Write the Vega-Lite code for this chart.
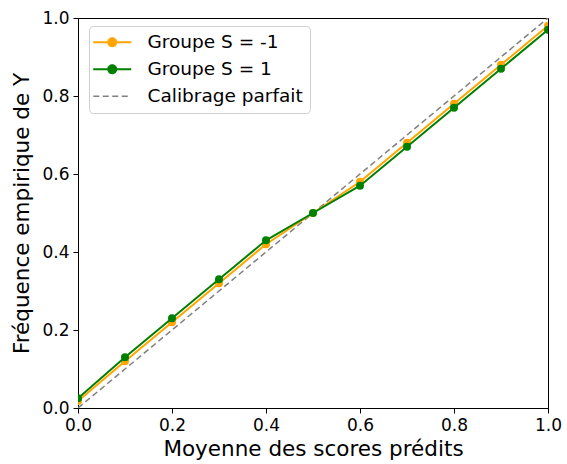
{
  "$schema": "https://vega.github.io/schema/vega-lite/v6.json",
  "width": 470,
  "height": 390,
  "autosize": "none",
  "padding": {"left": 78, "top": 18, "right": 19, "bottom": 56},
  "background": "white",
  "config": {
    "font": "DejaVu Sans",
    "view": {"stroke": "black", "strokeWidth": 1},
    "axis": {
      "grid": false,
      "domainColor": "black",
      "domainWidth": 1,
      "tickColor": "black",
      "tickSize": 5,
      "tickWidth": 1,
      "labelFont": "DejaVu Sans",
      "labelFontSize": 17,
      "labelColor": "black",
      "labelPadding": 4,
      "labelFlush": false,
      "titleFont": "DejaVu Sans",
      "titleFontSize": 21.5,
      "titleFontWeight": "normal",
      "titleColor": "black"
    }
  },
  "data": {
    "values": [
      {"x": 0.0, "y": 0.0, "serie": "Calibrage parfait"},
      {"x": 1.0, "y": 1.0, "serie": "Calibrage parfait"},
      {"x": 0.0, "y": 0.018, "serie": "Groupe S = -1"},
      {"x": 0.1, "y": 0.12, "serie": "Groupe S = -1"},
      {"x": 0.2, "y": 0.22, "serie": "Groupe S = -1"},
      {"x": 0.3, "y": 0.32, "serie": "Groupe S = -1"},
      {"x": 0.4, "y": 0.42, "serie": "Groupe S = -1"},
      {"x": 0.5, "y": 0.5, "serie": "Groupe S = -1"},
      {"x": 0.6, "y": 0.58, "serie": "Groupe S = -1"},
      {"x": 0.7, "y": 0.68, "serie": "Groupe S = -1"},
      {"x": 0.8, "y": 0.78, "serie": "Groupe S = -1"},
      {"x": 0.9, "y": 0.88, "serie": "Groupe S = -1"},
      {"x": 1.0, "y": 0.98, "serie": "Groupe S = -1"},
      {"x": 0.0, "y": 0.025, "serie": "Groupe S = 1"},
      {"x": 0.1, "y": 0.13, "serie": "Groupe S = 1"},
      {"x": 0.2, "y": 0.23, "serie": "Groupe S = 1"},
      {"x": 0.3, "y": 0.33, "serie": "Groupe S = 1"},
      {"x": 0.4, "y": 0.43, "serie": "Groupe S = 1"},
      {"x": 0.5, "y": 0.5, "serie": "Groupe S = 1"},
      {"x": 0.6, "y": 0.57, "serie": "Groupe S = 1"},
      {"x": 0.7, "y": 0.67, "serie": "Groupe S = 1"},
      {"x": 0.8, "y": 0.77, "serie": "Groupe S = 1"},
      {"x": 0.9, "y": 0.87, "serie": "Groupe S = 1"},
      {"x": 1.0, "y": 0.97, "serie": "Groupe S = 1"}
    ]
  },
  "encoding": {
    "x": {
      "field": "x", "type": "quantitative",
      "scale": {"domain": [0, 1], "nice": false, "zero": false},
      "axis": {"values": [0, 0.2, 0.4, 0.6, 0.8, 1.0], "format": ".1f", "title": "Moyenne des scores prédits", "titlePadding": 5}
    },
    "y": {
      "field": "y", "type": "quantitative",
      "scale": {"domain": [0, 1], "nice": false, "zero": false},
      "axis": {"values": [0, 0.2, 0.4, 0.6, 0.8, 1.0], "format": ".1f", "title": "Fréquence empirique de Y", "titlePadding": 8}
    },
    "color": {
      "field": "serie", "type": "nominal",
      "scale": {"domain": ["Groupe S = -1", "Groupe S = 1", "Calibrage parfait"], "range": ["#FFA500", "#008000", "#808080"]},
      "legend": {
        "title": null,
        "orient": "none",
        "legendX": 11,
        "legendY": 8,
        "padding": 7,
        "fillColor": "rgba(255,255,255,0.85)",
        "strokeColor": "#d0d0d0",
        "cornerRadius": 4,
        "labelFont": "DejaVu Sans",
        "labelFontSize": 18.5,
        "labelColor": "black",
        "labelOffset": 26,
        "rowPadding": 8,
        "symbolOffset": 7,
        "symbolSize": 1444,
        "symbolStrokeWidth": 2,
        "symbolType": "M-1,0H1",
        "encode": {
          "symbols": {
            "update": {
              "shape": {"signal": "datum.value === 'Calibrage parfait' ? 'M-1,0H1' : 'M-1,0H1M0.21,0A0.21,0.21,0,1,1,-0.21,0A0.21,0.21,0,1,1,0.21,0Z'"},
              "strokeDash": {"signal": "datum.value === 'Calibrage parfait' ? [6,3.5] : [1,0]"},
              "strokeWidth": {"signal": "datum.value === 'Calibrage parfait' ? 1.5 : 2"},
              "fill": {"signal": "datum.value === 'Calibrage parfait' ? 'transparent' : (datum.value === 'Groupe S = 1' ? '#008000' : '#FFA500')"},
              "stroke": {"signal": "datum.value === 'Calibrage parfait' ? '#808080' : (datum.value === 'Groupe S = 1' ? '#008000' : '#FFA500')"},
              "opacity": {"value": 1}
            }
          }
        }
      }
    }
  },
  "layer": [
    {
      "transform": [{"filter": "datum.serie === 'Calibrage parfait'"}],
      "mark": {"type": "line", "strokeDash": [6, 3.5], "strokeWidth": 1.5, "clip": true}
    },
    {
      "transform": [{"filter": "datum.serie === 'Groupe S = -1'"}],
      "mark": {"type": "line", "strokeWidth": 2, "clip": true}
    },
    {
      "transform": [{"filter": "datum.serie === 'Groupe S = -1'"}],
      "mark": {"type": "point", "filled": true, "opacity": 1, "size": 64, "clip": true}
    },
    {
      "transform": [{"filter": "datum.serie === 'Groupe S = 1'"}],
      "mark": {"type": "line", "strokeWidth": 2, "clip": true}
    },
    {
      "transform": [{"filter": "datum.serie === 'Groupe S = 1'"}],
      "mark": {"type": "point", "filled": true, "opacity": 1, "size": 64, "clip": true}
    }
  ]
}
